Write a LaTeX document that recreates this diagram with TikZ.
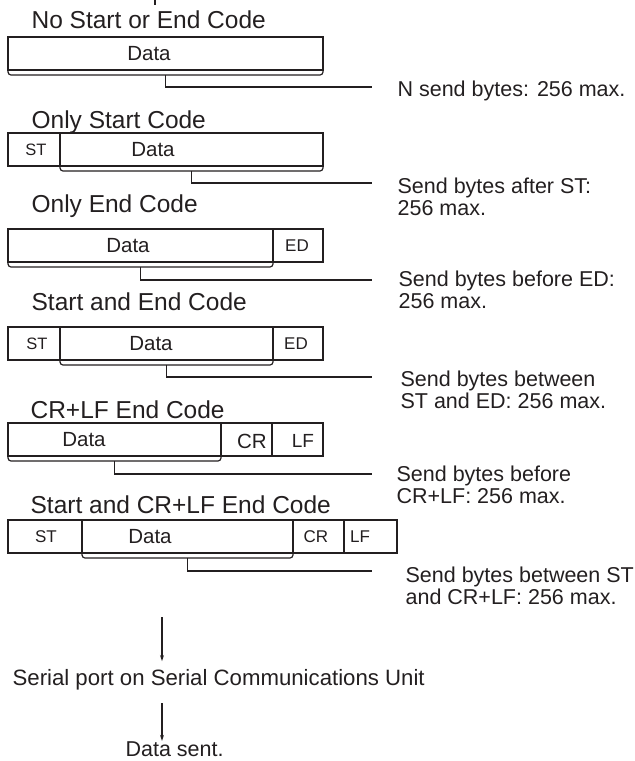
\documentclass[tikz,border=0pt]{standalone}
\usepackage{fontspec}
\setmainfont{Liberation Sans}
\usetikzlibrary{calc, arrows.meta}
\definecolor{ink}{HTML}{231F20}

\begin{document}
\begin{tikzpicture}[x=1pt, y=-1pt, line width=1.2pt, draw=ink, text=ink,
  >={Stealth[length=6pt, width=4pt]},
  title/.style={anchor=base west, inner sep=0, font=\fontsize{24.5}{27}\selectfont},
  note/.style={anchor=north west, inner sep=0, align=left, font=\fontsize{21.5}{22.5}\selectfont},
  field/.style={draw, rectangle, anchor=north west, inner sep=0, outer sep=0, minimum height=33},
  dat/.style={inner sep=0, font=\fontsize{20.5}{22}\selectfont},
  code/.style={inner sep=0, font=\fontsize{16.5}{18}\selectfont},
  brace/.style={rounded corners=3},
  conn/.style={line width=1.3pt}]
\useasboundingbox (0,0) rectangle (635,761);
\draw (155,0) -- (155,5);

% No start or end code
\begin{scope}[shift={(0,37)}]
\node[title] (t1) at (31,-9) {No Start or End Code};
\node[field, minimum width=315] (d1) at (8,0) {};
\node[dat] (d1t) at (149,17) {Data};
\draw[brace] (d1.south west) -- ++(0,5) -- ($(d1.south east)+(0,5)$) -- (d1.south east);
\coordinate (m1) at ($(d1.south)+(0,5)$);
\coordinate (e1) at (372,50);
\node[note] (l1) at (397,43) {N send bytes: 256 max.};
\draw[conn] (m1) |- (e1);
\end{scope}

% Only start code
\begin{scope}[shift={(0,133)}]
\node[title] (t2) at (31,-5) {Only Start Code};
\node[field, minimum width=52] (s2) at (8,0) {};
\node[field, minimum width=263] (d2) at (60,0) {};
\node[code] (s2t) at (36,17) {ST};
\node[dat] (d2t) at (153,17) {Data};
\draw[brace] (d2.south west) -- ++(0,5) -- ($(d2.south east)+(0,5)$) -- (d2.south east);
\coordinate (m2) at ($(d2.south)+(0,5)$);
\coordinate (e2) at (372,50);
\node[note] (l2) at (397,44) {Send bytes after ST:\\256 max.};
\draw[conn] (m2) |- (e2);
\end{scope}

% Only end code
\begin{scope}[shift={(0,229)}]
\node[title] (t3) at (31,-17) {Only End Code};
\node[field, minimum width=265] (d3) at (8,0) {};
\node[field, minimum width=50] (n3) at (273,0) {};
\node[dat] (d3t) at (128,17) {Data};
\node[code, font=\fontsize{17}{19}\selectfont] (n3t) at (297,17) {ED};
\draw[brace] (d3.south west) -- ++(0,5) -- ($(d3.south east)+(0,5)$) -- (d3.south east);
\coordinate (m3) at ($(d3.south)+(0,5)$);
\coordinate (e3) at (372,51);
\node[note] (l3) at (398,41) {Send bytes before ED:\\256 max.};
\draw[conn] (m3) |- (e3);
\end{scope}

% Start and end code
\begin{scope}[shift={(0,327)}]
\node[title] (t4) at (31,-17) {Start and End Code};
\node[field, minimum width=52] (s4) at (8,0) {};
\node[field, minimum width=213] (d4) at (60,0) {};
\node[field, minimum width=50] (n4) at (273,0) {};
\node[code] (s4t) at (37,17) {ST};
\node[dat] (d4t) at (151,17) {Data};
\node[code, font=\fontsize{17}{19}\selectfont] (n4t) at (296,17) {ED};
\draw[brace] (d4.south west) -- ++(0,5) -- ($(d4.south east)+(0,5)$) -- (d4.south east);
\coordinate (m4) at ($(d4.south)+(0,5)$);
\coordinate (e4) at (372,50);
\node[note] (l4) at (400,43) {Send bytes between\\ST and ED: 256 max.};
\draw[conn] (m4) |- (e4);
\end{scope}

% CR+LF end code
\begin{scope}[shift={(0,423)}]
\node[title] (t5) at (30,-5) {CR+LF End Code};
\node[field, minimum width=213] (d5) at (8,0) {};
\node[field, minimum width=51] (c5) at (221,0) {};
\node[field, minimum width=51] (f5) at (272,0) {};
\node[dat] (d5t) at (84,17) {Data};
\node[dat] (c5t) at (252,18) {CR};
\node[dat, font=\fontsize{19}{21}\selectfont] (f5t) at (303,18) {LF};
\draw[brace] (d5.south west) -- ++(0,5) -- ($(d5.south east)+(0,5)$) -- (d5.south east);
\coordinate (m5) at ($(d5.south)+(0,5)$);
\coordinate (e5) at (372,51);
\node[note] (l5) at (396,42) {Send bytes before\\CR+LF: 256 max.};
\draw[conn] (m5) |- (e5);
\end{scope}

% Start and CR+LF end code
\begin{scope}[shift={(0,520)}]
\node[title] (t6) at (30,-7) {Start and CR+LF End Code};
\node[field, minimum width=74] (s6) at (8,0) {};
\node[field, minimum width=211] (d6) at (82,0) {};
\node[field, minimum width=51] (c6) at (293,0) {};
\node[field, minimum width=53] (f6) at (344,0) {};
\node[code, font=\fontsize{17}{19}\selectfont] (s6t) at (46,17) {ST};
\node[dat] (d6t) at (150,17) {Data};
\node[code, font=\fontsize{17}{19}\selectfont] (c6t) at (316,17) {CR};
\node[code, font=\fontsize{17}{19}\selectfont] (f6t) at (360,17) {LF};
\draw[brace] (d6.south west) -- ++(0,5) -- ($(d6.south east)+(0,5)$) -- (d6.south east);
\coordinate (m6) at ($(d6.south)+(0,5)$);
\coordinate (e6) at (372,51);
\node[note] (l6) at (405,46) {Send bytes between ST\\and CR+LF: 256 max.};
\draw[conn] (m6) |- (e6);
\end{scope}

% Output to the port
\coordinate (a1) at (162,617);
\node[note, anchor=west, font=\fontsize{22.2}{24}\selectfont] (port) at (12,680) {Serial port on Serial Communications Unit};
\draw[->] (a1) -- (a1 |- port.north) [shorten >=8pt];
\coordinate (a2) at (162,703);
\node[note, anchor=west] (sent) at (125,749) {Data sent.};
\draw[->] (a2) -- (a2 |- sent.north);
\end{tikzpicture}
\end{document}
